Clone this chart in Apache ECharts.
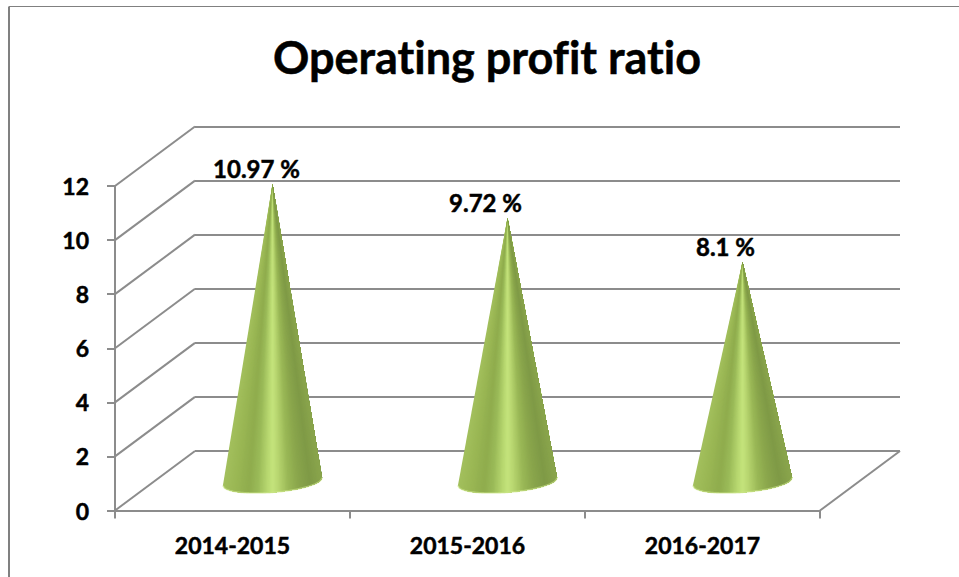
<!DOCTYPE html>
<html><head><meta charset="utf-8">
<style>html,body{margin:0;padding:0;background:#fff}#c{width:959px;height:577px}#c text{font-variant-ligatures:none}</style>
<script src="https://cdn.jsdelivr.net/npm/echarts@6/dist/echarts.min.js"></script>
</head><body><div id="c"></div>
<script>
const titleText = 'Operating profit ratio';
const categories = ['2014-2015', '2015-2016', '2016-2017'];
const ratioValues = [10.97, 9.72, 8.1];
const yTicks = [0, 2, 4, 6, 8, 10, 12];

// style constants
const FONT = 'Lato';
const GRID = '#8c8c8c';
const LW = 2;
const DEPTH = [80, -59.5];
const FRONT = { left: 115, top: 186, width: 705, height: 324.5 };
const LABEL_DX = [-16, -22, -17];
const SHADE = [[0,'#a3c05c'],[0.12,'#9ab754'],[0.26,'#8fac4d'],[0.35,'#9aba58'],[0.45,'#b8d870'],[0.5,'#c4e47c'],[0.56,'#b8d670'],[0.66,'#9ab856'],[0.76,'#8aa64c'],[0.88,'#7f9a46'],[1,'#8aa54c']];

function hex(c){ return [1,3,5].map(function(i){ return parseInt(c.substr(i,2),16); }); }
function shade(u){
  for (let i=1;i<SHADE.length;i++){
    if (u<=SHADE[i][0]){
      const a=SHADE[i-1], b=SHADE[i], f=(u-a[0])/(b[0]-a[0]);
      const x=hex(a[1]), y=hex(b[1]);
      return x.map(function(v,k){ return Math.round(v+(y[k]-v)*f); });
    }
  }
  return hex(SHADE[SHADE.length-1][1]);
}
function rgb(c){ return 'rgb('+c.join(',')+')'; }

function renderCone(params, api){
  const i=api.value(0), v=api.value(1);
  const base=api.coord([i,0]), tip=api.coord([i,v]);
  const band=api.size([1,0])[0];
  const cx=base[0]+DEPTH[0]/2, cy=base[1]+DEPTH[1]/2+1;
  const ax=tip[0]+DEPTH[0]/2, ay=tip[1]+DEPTH[1]/2;
  const rx=band*0.211, ry=rx*0.215, shear=-0.077;
  function rim(u){
    const c=2*u-1, s=Math.sqrt(Math.max(0,1-c*c));
    return [cx+rx*c, cy+ry*s+shear*rx*c];
  }
  const N=70, pts=[];
  for (let k=0;k<=N;k++) pts.push(rim(k/N));
  const children=[];
  for (let k=0;k<N;k++){
    children.push({type:'polygon',shape:{points:[[ax,ay]].concat(pts.slice(k))},
      style:{fill:rgb(shade((k+0.5)/N))}});
  }
  children.push({type:'polyline',shape:{points:pts},
    style:{fill:null,stroke:'rgba(205,232,140,0.55)',lineWidth:1.6}});
  children.push({type:'text',style:{
    text:v+' %',x:ax+LABEL_DX[i],y:ay-15.5,align:'center',verticalAlign:'middle',
    font:'bold 24px '+FONT,fill:'#000',stroke:'#000',lineWidth:0.5},z2:10});
  return {type:'group',children:children};
}

function renderDiagonal(params, api){
  const band=api.size([1,0])[0];
  const leftEdge=api.coord([0,api.value(0)]);
  const x=leftEdge[0]-band/2, y=leftEdge[1];
  return {type:'line',shape:{x1:x,y1:y,x2:x+DEPTH[0],y2:y+DEPTH[1]},style:{stroke:GRID,lineWidth:LW}};
}
function renderFloorEdge(params, api){
  const band=api.size([1,0])[0];
  const p=api.coord([api.value(0),0]);
  const x=p[0]+band/2, y=p[1];
  return {type:'line',shape:{x1:x,y1:y,x2:x+DEPTH[0],y2:y+DEPTH[1]},style:{stroke:GRID,lineWidth:LW}};
}

const chart=echarts.init(document.getElementById('c'),null,{renderer:'svg'});
const heavy={textBorderColor:'#000',textBorderWidth:0.5};
chart.setOption({
  animation:false,
  backgroundColor:'#fff',
  textStyle:{fontFamily:FONT},
  title:{text:titleText,left:482,top:29,textAlign:'center',
    textStyle:Object.assign({fontFamily:FONT,fontWeight:'bold',fontSize:45,color:'#000'},heavy)},
  graphic:[
    {type:'line',shape:{x1:9,y1:6.5,x2:9,y2:577},style:{stroke:'#808080',lineWidth:2},silent:true},
    {type:'line',shape:{x1:9,y1:6.5,x2:959,y2:6.5},style:{stroke:'#808080',lineWidth:1},silent:true}
  ],
  grid:[
    {left:FRONT.left,top:FRONT.top,width:FRONT.width,height:FRONT.height},
    {left:FRONT.left+DEPTH[0],top:FRONT.top+DEPTH[1],width:FRONT.width,height:FRONT.height}
  ],
  xAxis:[
    {type:'category',gridIndex:0,data:categories,
      axisLine:{lineStyle:{color:GRID,width:LW}},
      axisTick:{show:true,alignWithLabel:false,length:8,lineStyle:{color:GRID,width:LW}},
      axisLabel:Object.assign({color:'#000',fontFamily:FONT,fontWeight:'bold',fontSize:23,margin:23},heavy)},
    {type:'category',gridIndex:1,data:categories,show:false}
  ],
  yAxis:[
    {type:'value',gridIndex:0,min:0,max:12,interval:2,
      axisLine:{show:true,lineStyle:{color:GRID,width:LW}},
      axisTick:{show:true,length:8,lineStyle:{color:GRID,width:LW}},
      axisLabel:Object.assign({color:'#000',fontFamily:FONT,fontWeight:'bold',fontSize:23,margin:26,padding:[5,0,0,0],
        formatter:function(v){ return yTicks.indexOf(v)>=0 ? String(v) : ''; }},heavy),
      splitLine:{show:false}},
    {type:'value',gridIndex:1,min:0,max:12,interval:2,
      axisLine:{show:false},axisTick:{show:false},axisLabel:{show:false},
      splitLine:{show:true,lineStyle:{color:GRID,width:LW}}}
  ],
  series:[
    {type:'custom',xAxisIndex:0,yAxisIndex:0,z:2,silent:true,clip:false,
      data:yTicks.map(function(t){ return [t]; }),encode:{y:0},renderItem:renderDiagonal},
    {type:'custom',xAxisIndex:0,yAxisIndex:0,z:2,silent:true,clip:false,
      data:[[categories.length-1]],encode:{x:0},renderItem:renderFloorEdge},
    {type:'custom',name:'Operating profit ratio',xAxisIndex:0,yAxisIndex:0,z:5,silent:true,clip:false,
      data:ratioValues.map(function(v,i){ return [i,v]; }),encode:{x:0,y:1},renderItem:renderCone}
  ]
});
</script>
</body></html>
